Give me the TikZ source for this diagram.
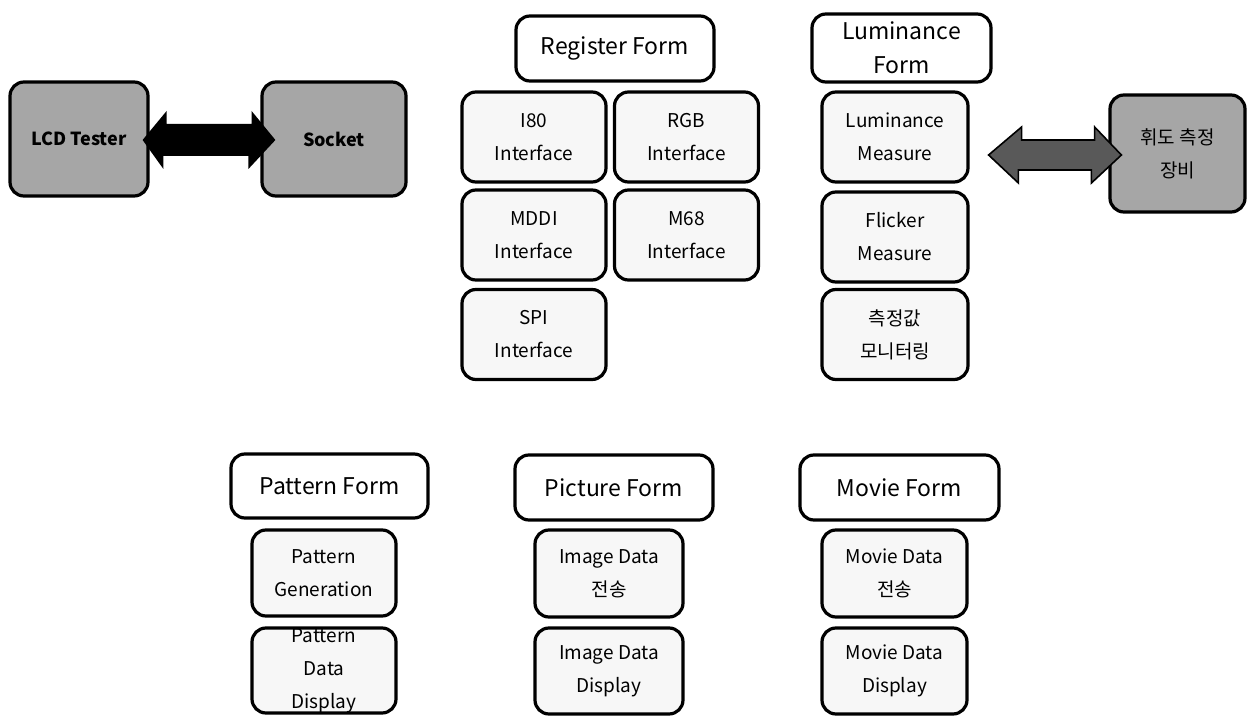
\documentclass[tikz,border=0pt]{standalone}
\usepackage{fontspec}
\setmainfont{Noto Sans CJK KR}
\usetikzlibrary{calc}
\begin{document}
\begin{tikzpicture}[x=0.5pt,y=-0.5pt,
  box/.style={draw=black, line width=1.6pt, rounded corners=7pt, align=center, inner sep=0pt,
    fill=black!3, font=\fontsize{9.5}{16.5}\selectfont, minimum width=72pt, minimum height=45pt},
  formbox/.style={box, fill=white, font=\fontsize{11.5}{17}\selectfont, minimum width=99pt, minimum height=32.5pt},
  graybox/.style={box, fill=black!35, font=\bfseries\fontsize{9}{16}\selectfont},
  plaintext/.style={align=center, inner sep=0pt, font=\fontsize{9.5}{16.5}\selectfont},
  blockarrow/.style={fill=black},
  grayarrow/.style={fill=black!65, draw=black, line width=0.8pt},
]
\useasboundingbox (0,0) rectangle (1250,716);

% top-left
\node[graybox, minimum width=69pt, minimum height=57pt] (lcd) at (79,139) {LCD Tester};
\node[graybox, minimum width=72pt, minimum height=57pt] (socket) at (334,139) {Socket};

% register form
\node[formbox] (regf) at (615,48.5) {Register Form};
\node[box] (i80) at (534,137) {I80\\Interface};
\node[box] (rgb) at (686.5,137) {RGB\\Interface};
\node[box] (mddi) at (534,235) {MDDI\\Interface};
\node[box] (m68) at (686.5,235) {M68\\Interface};
\node[box] (spi) at (534,334.5) {SPI\\Interface};

% luminance form
\node[formbox, minimum width=89.5pt, minimum height=34pt] (lumf) at (901.5,48) {Luminance\\Form};
\node[box, minimum width=73pt] (lm) at (895,137) {Luminance\\Measure};
\node[box, minimum width=73pt] (fm) at (895,237) {Flicker\\Measure};
\node[box, minimum width=73pt] (mon) at (895,334.5) {측정값\\모니터링};
\node[graybox, font=\fontsize{9.5}{16.5}\selectfont, minimum width=67.5pt, minimum height=58.5pt] (eq) at (1177.5,153.5) {휘도 측정\\장비};

% bottom row
\node[formbox, minimum width=98.5pt, minimum height=32pt] (patf) at (329.5,486) {Pattern Form};
\node[box, minimum height=43pt] (pg) at (324,573) {Pattern\\Generation};
\node[box, minimum height=42.5pt] (pdd) at (324,670.5) {};
\node[plaintext] (pddt) at (pdd.center) {Pattern\\Data\\Display};

\node[formbox] (picf) at (614,487.5) {Picture Form};
\node[box, minimum width=74pt, minimum height=43.5pt] (idt) at (609,573.5) {Image Data\\전송};
\node[box, minimum width=74pt, minimum height=43pt] (idd) at (609,671) {Image Data\\Display};

\node[formbox, minimum width=99.5pt] (movf) at (899.5,487.5) {Movie Form};
\node[box, minimum width=72.5pt, minimum height=43.5pt] (mdt) at (894.5,573.5) {Movie Data\\전송};
\node[box, minimum width=72.5pt, minimum height=43pt] (mdd) at (894.5,671) {Movie Data\\Display};

% block arrows
\fill[blockarrow] ($(lcd.east)+(-7,1)$) -- ++(24,-29) -- ++(0,13) -- ++(85,0) -- ++(0,-13)
  -- ($(socket.west)+(15,1)$) -- ++(-27,29) -- ++(0,-13) -- ++(-85,0) -- ++(0,13) -- cycle;
\filldraw[grayarrow] ($(lm.east)+(19,18)$) -- ++(33,-28) -- ++(0,13) -- ++(73,0) -- ++(0,-13)
  -- ($(eq.west)+(13,1.5)$) -- ++(-30,28) -- ++(0,-13) -- ++(-73,0) -- ++(0,13) -- cycle;
\end{tikzpicture}
\end{document}
